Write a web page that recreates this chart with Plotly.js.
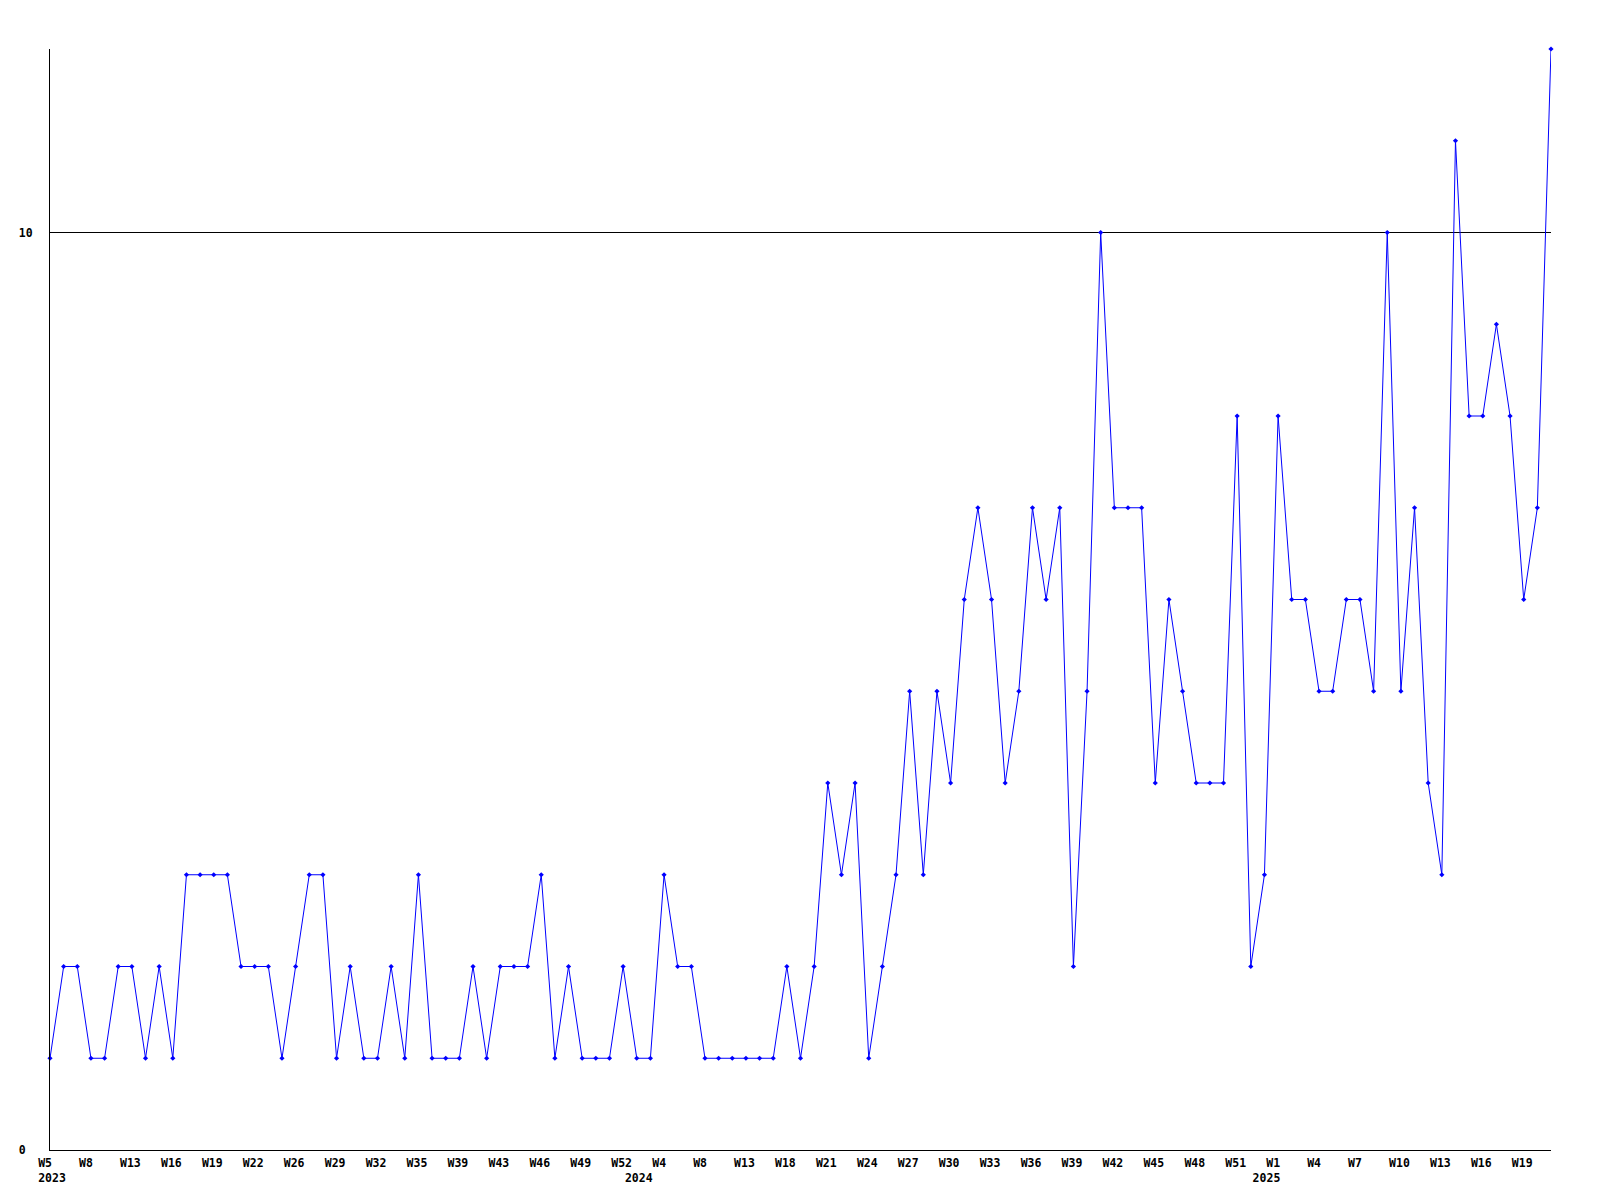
<!DOCTYPE html>
<html>
<head>
<meta charset="utf-8">
<script src="https://cdn.plot.ly/plotly-3.0.1.min.js"></script>
<style>
  html, body { margin: 0; padding: 0; background: #ffffff; }
  #chart { width: 1600px; height: 1200px; }
</style>
</head>
<body>
<div id="chart"></div>
<script>
// Week numbers present in the data, per year
const weeks2023 = [5,6,7,8,10,12,13,14,15,16,17,18,19,20,21,22,24,25,26,27,28,29,30,31,32,33,34,35,37,38,39,41,42,43,44,45,46,47,48,49,50,51,52];
const weeks2024 = [1,3,4,6,7,8,10,12,13,15,17,18,19,20,21,22,23,24,25,26,27,28,29,30,31,32,33,34,35,36,37,38,39,40,41,42,43,44,45,46,47,48,49,50,51,52];
const weeks2025 = [0,1,2,3,4,5,6,7,8,9,10,11,12,13,14,15,16,17,18,19,20,21];

// Weekly counts
const counts = [
  1,2,2,1,1,2,2,1,2,1,
  3,3,3,3,2,2,2,1,2,3,
  3,1,2,1,1,2,1,3,1,1,
  1,2,1,2,2,2,3,1,2,1,
  1,1,2,1,1,3,2,2,1,1,
  1,1,1,1,2,1,2,4,3,4,
  1,2,3,5,3,5,4,6,7,6,
  4,5,7,6,7,2,5,10,7,7,
  7,4,6,5,4,4,4,8,2,3,
  8,6,6,5,5,6,6,5,10,5,
  7,4,3,11,8,8,9,8,6,7,
  12
];

const years = [2023, 2024, 2025];
const yTicks = [0, 10];

// categories
const weekLists = [weeks2023, weeks2024, weeks2025];
const categories = [];
const catWeek = [];
const catYearStart = [];
weekLists.forEach((wl, yi) => {
  wl.forEach((w, k) => {
    categories.push(years[yi] + '-W' + String(w).padStart(2, '0'));
    catWeek.push(w);
    catYearStart.push(k === 0 ? years[yi] : null);
  });
});

// pad labels so they read left-aligned like the original
const NB = '\u00a0';
function padTo(s, n) { while (s.length < n) s += NB; return s; }

// tick labels: every third week, plus year on a second line at each year's first week
const tickvals = [];
const ticktext = [];
categories.forEach((c, i) => {
  const isWeekTick = (i % 3 === 0);
  const yr = catYearStart[i];
  if (isWeekTick || yr !== null) {
    tickvals.push(c);
    ticktext.push((isWeekTick ? padTo('W' + catWeek[i], 4) : padTo('', 4)) + (yr !== null ? '<br>' + yr : ''));
  }
});

const fnt = { family: 'DejaVu Sans Mono, monospace', size: 11.5, color: '#000000', weight: 'bold' };

const trace = {
  x: categories,
  y: counts,
  type: 'scatter',
  mode: 'lines+markers',
  line: { color: '#0000ff', width: 1 },
  marker: { color: '#0000ff', symbol: 'diamond', size: 4, line: { width: 0 } },
  hoverinfo: 'x+y',
  cliponaxis: false
};

const layout = {
  width: 1600,
  height: 1200,
  paper_bgcolor: '#ffffff',
  plot_bgcolor: '#ffffff',
  showlegend: false,
  margin: { l: 50, r: 49, t: 49, b: 50, pad: 0 },
  font: fnt,
  xaxis: {
    type: 'category',
    categoryorder: 'array',
    categoryarray: categories,
    range: [0, categories.length - 1],
    tickmode: 'array',
    tickvals: tickvals,
    ticktext: ticktext,
    tickangle: 0,
    ticks: '',
    ticklabelstandoff: 2,
    ticklabelshift: 2,
    showgrid: false,
    zeroline: false,
    showline: true,
    linecolor: '#000000',
    linewidth: 1,
    tickfont: fnt,
    automargin: false
  },
  yaxis: {
    range: [0, 12],
    tickmode: 'array',
    tickvals: yTicks,
    ticktext: yTicks.map(v => padTo(String(v), 2)),
    ticks: '',
    ticklabelstandoff: 14,
    showgrid: true,
    gridcolor: '#000000',
    gridwidth: 1,
    zeroline: false,
    showline: true,
    linecolor: '#000000',
    linewidth: 1,
    tickfont: fnt,
    automargin: false
  }
};

Plotly.newPlot('chart', [trace], layout, { displayModeBar: false, staticPlot: true });
</script>
</body>
</html>
